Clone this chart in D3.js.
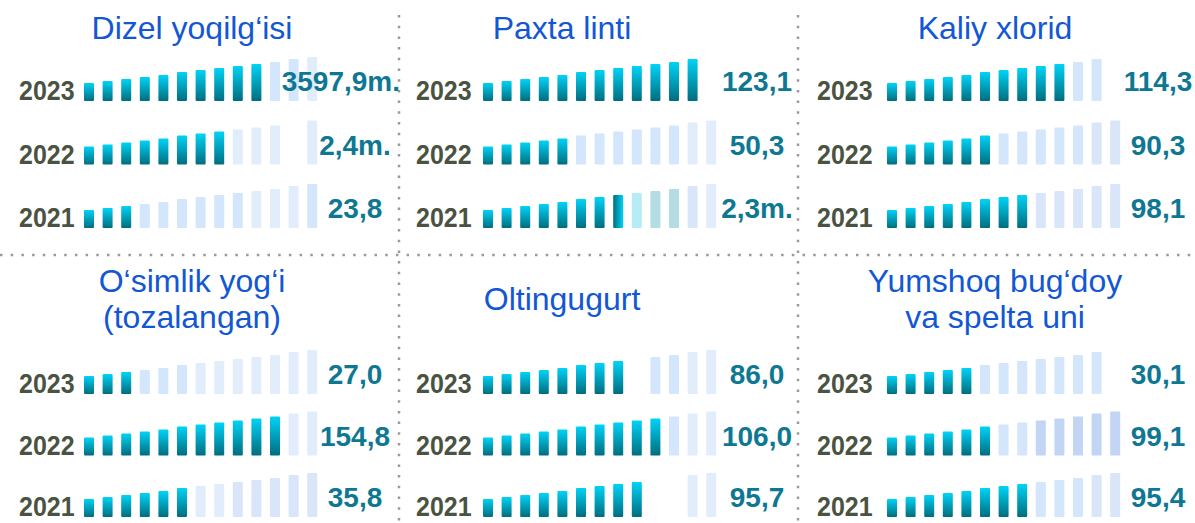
<!DOCTYPE html>
<html>
<head>
<meta charset="utf-8">
<script src="https://cdn.jsdelivr.net/npm/d3@7"></script>
<style>
  body { margin: 0; background: #fff; }
  svg { display: block; }
  text { font-family: "Liberation Sans", Arial, sans-serif; }
</style>
</head>
<body>
<svg id="chart"></svg>
<script>
const titles = [
  ['Dizel yoqilg‘isi'],
  ['Paxta linti'],
  ['Kaliy xlorid'],
  ['O‘simlik yog‘i', '(tozalangan)'],
  ['Oltingugurt'],
  ['Yumshoq bug‘doy', 'va spelta uni']
];
const years = ['2023', '2022', '2021'];
const values = [
  ['3597,9m.', '2,4m.', '23,8'],
  ['123,1', '50,3', '2,3m.'],
  ['114,3', '90,3', '98,1'],
  ['27,0', '154,8', '35,8'],
  ['86,0', '106,0', '95,7'],
  ['30,1', '99,1', '95,4']
];
// f = filled, h = half-filled, others = pale tones, '-' = no bar
const barStates = [
  ['ffffffffffllp', 'ffffffffppp-p', 'fffllllllpppl'],
  ['ffffffffffff', 'fffffllllllpp', 'fffffffhcttbp'],
  ['ffffffffffll', 'fffffflllllbb', 'ffffffffbbbbb'],
  ['ffflllppppppp', 'fffffffffffpp', 'ffffffppbbbbb'],
  ['ffffffff-llpp', 'fffffffffflpp', 'fffffffff--pp'],
  ['ffffflllllll', 'ffffffllddddd', 'fffffffflllbb']
];
const barHeights = [18, 20, 22, 24, 26, 29, 31, 33, 35, 37, 39, 42, 44];

const width = 1195;
const height = 523;

const colRight = [399, 798, 1195];
const titleCx = [192, 562, 995];
const barStart = [84, 483, 887];
const valueCx = [355, 757, 1158];
const yearX = [19, 416, 817];

const rowY = [
  d3.scalePoint().domain(years).range([101, 228]),
  d3.scalePoint().domain(years).range([394, 517])
];
const titleY = [39, 310];

const step = 18.6;
let x = d3.scaleBand()
  .domain(d3.range(barHeights.length))
  .range([0, step * barHeights.length - 8.6])
  .paddingInner(8.6 / step);

let barH = d3.scaleOrdinal()
  .domain(d3.range(barHeights.length))
  .range(barHeights);

let fillOf = d3.scaleOrdinal()
  .domain(['f', 'h', 'l', 'p', 'b', 'd', 'c', 't'])
  .range(['url(#gradV)', 'url(#gradH)', '#d3e6fb', '#e2edfc', '#d9e5f8', '#c2d5f5', '#b6ecf6', '#b3dde3']);

const svg = d3.select('#chart')
  .attr('width', width)
  .attr('height', height);

const defs = svg.append('defs');
let gv = defs.append('linearGradient')
  .attr('id', 'gradV')
  .attr('x1', 0).attr('y1', 0).attr('x2', 0).attr('y2', 1);
gv.append('stop').attr('offset', 0).attr('stop-color', '#00d3f7');
gv.append('stop').attr('offset', 1).attr('stop-color', '#006d7e');

let gh = defs.append('linearGradient')
  .attr('id', 'gradH')
  .attr('x1', 0).attr('y1', 0).attr('x2', 1).attr('y2', 0);
gh.append('stop').attr('offset', 0).attr('stop-color', '#006d7e');
gh.append('stop').attr('offset', 1).attr('stop-color', '#00d3f7');

// dotted separators
const dots = svg.append('g')
  .attr('stroke', '#9a9a9a')
  .attr('stroke-width', 2.5)
  .attr('stroke-dasharray', '2.5 8.2');
dots.append('line')
  .attr('x1', 0).attr('x2', width)
  .attr('y1', 255).attr('y2', 255);
dots.selectAll('.vline')
  .data(colRight.slice(0, 2))
  .enter()
  .append('line')
  .attr('class', 'vline')
  .attr('x1', d => d).attr('x2', d => d)
  .attr('y1', 15).attr('y2', height);

titles.forEach(function (title, p) {
  const col = p % 3;
  const half = Math.floor(p / 3);
  const panel = svg.append('g').attr('class', 'panel');
  const y = rowY[half];

  const first = titleY[half] - (title.length - 1) * 18;
  panel.append('text')
    .attr('text-anchor', 'middle')
    .attr('fill', '#1257d3')
    .attr('font-size', 32)
    .selectAll('tspan')
    .data(title)
    .enter()
    .append('tspan')
    .attr('x', titleCx[col])
    .attr('y', (d, i) => first + i * 36)
    .text(d => d);

  years.forEach(function (year, r) {
    const row = panel.append('g');
    const base = y(year);

    row.append('text')
      .attr('fill', '#4a5341')
      .attr('font-weight', 'bold')
      .attr('font-size', 25)
      .attr('transform', 'translate(' + yearX[col] + ',' + (base - 1) + ') scale(1,1.1)')
      .text(year);

    const states = barStates[p][r].split('')
      .map((s, i) => ({ s: s, i: i }))
      .filter(d => d.s !== '-');

    row.selectAll('rect')
      .data(states)
      .enter()
      .append('rect')
      .attr('x', d => barStart[col] + x(d.i))
      .attr('width', x.bandwidth())
      .attr('y', d => base - barH(d.i))
      .attr('height', d => barH(d.i))
      .attr('rx', 1)
      .attr('fill', d => fillOf(d.s));

    row.append('text')
      .attr('text-anchor', 'middle')
      .attr('fill', '#0e7893')
      .attr('font-weight', 'bold')
      .attr('font-size', 28)
      .attr('y', base - 10)
      .text(values[p][r])
      .each(function () {
        const w = this.getComputedTextLength();
        d3.select(this).attr('x', Math.min(valueCx[col], colRight[col] + 1 - w / 2));
      });
  });
});
</script>
</body>
</html>
